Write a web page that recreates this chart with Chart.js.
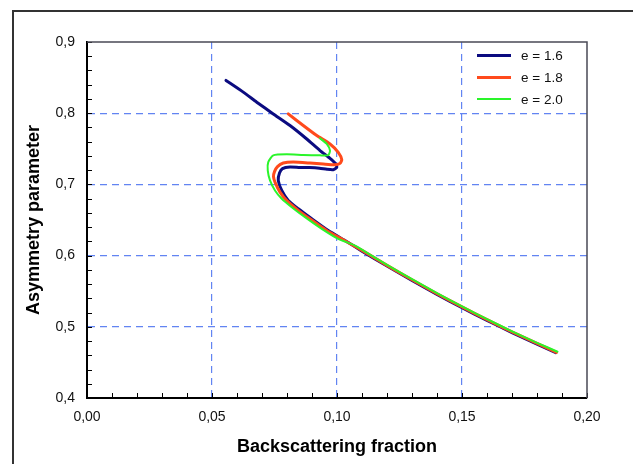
<!DOCTYPE html>
<html>
<head>
<meta charset="utf-8">
<script src="https://cdn.jsdelivr.net/npm/chart.js@4.4.0/dist/chart.umd.min.js"></script>
<style>
  html, body { margin: 0; padding: 0; background: #fff; overflow: hidden; }
  #wrap { position: relative; width: 633px; height: 464px; }
  #frame { position: absolute; left: 12px; top: 10px; width: 700px; height: 500px; border-top: 2px solid #333; border-left: 2px solid #333; }
  #myChart { position: absolute; left: 0; top: 0; }
  #legend { position: absolute; left: 477px; top: 45px; font-family: 'Liberation Sans', Arial, sans-serif; font-size: 13.5px; color: #111; }
  .row { height: 21.8px; display: flex; align-items: center; }
  .swatch { display: inline-block; width: 34px; height: 0; margin-right: 10px; }
</style>
</head>
<body>
<div id="wrap">
  <div id="frame"></div>
  <canvas id="myChart" width="633" height="464"></canvas>
  <div id="legend"></div>
</div>
<script>
// Valores
var seriesLabels = ['e = 1.6', 'e = 1.8', 'e = 2.0'];
var xTickLabels = ['0,00', '0,05', '0,10', '0,15', '0,20'];
var yTickLabels = ['0,4', '0,5', '0,6', '0,7', '0,8', '0,9'];

var e16X = [0.0556, 0.0625, 0.0679, 0.0745, 0.0812, 0.0879, 0.0932, 0.0972, 0.0992, 0.0999, 0.0985, 0.0960, 0.0930, 0.0890, 0.0852, 0.0812, 0.0782, 0.0770, 0.0765, 0.0779, 0.0805, 0.0845, 0.0899, 0.0965, 0.1032, 0.1100, 0.1200, 0.1300, 0.1400, 0.1500, 0.1600, 0.1700, 0.1800, 0.1875];
var e16Y = [0.8460, 0.8296, 0.8155, 0.7990, 0.7827, 0.7638, 0.7475, 0.7366, 0.7300, 0.7239, 0.7207, 0.7212, 0.7228, 0.7236, 0.7236, 0.7244, 0.7222, 0.7160, 0.7056, 0.6915, 0.6775, 0.6658, 0.6517, 0.6352, 0.6211, 0.6063, 0.5853, 0.5650, 0.5455, 0.5269, 0.5090, 0.4919, 0.4757, 0.4637];

var e18X = [0.0805, 0.0865, 0.0919, 0.0972, 0.1005, 0.1019, 0.1012, 0.0992, 0.0945, 0.0892, 0.0825, 0.0785, 0.0762, 0.0750, 0.0746, 0.0752, 0.0772, 0.0800, 0.0840, 0.0890, 0.0960, 0.1025, 0.1100, 0.1200, 0.1300, 0.1400, 0.1500, 0.1600, 0.1700, 0.1800, 0.1878];
var e18Y = [0.7990, 0.7827, 0.7686, 0.7568, 0.7451, 0.7348, 0.7295, 0.7275, 0.7285, 0.7300, 0.7314, 0.7300, 0.7250, 0.7180, 0.7110, 0.7033, 0.6892, 0.6770, 0.6650, 0.6520, 0.6350, 0.6222, 0.6073, 0.5863, 0.5660, 0.5465, 0.5279, 0.5100, 0.4929, 0.4767, 0.4640];

var e20X = [0.0932, 0.0959, 0.0972, 0.0965, 0.0932, 0.0865, 0.0799, 0.0745, 0.0725, 0.0723, 0.0732, 0.0752, 0.0779, 0.0819, 0.0872, 0.0939, 0.1005, 0.1072, 0.1150, 0.1200, 0.1300, 0.1400, 0.1500, 0.1600, 0.1700, 0.1800, 0.1882];
var e20Y = [0.7648, 0.7568, 0.7475, 0.7410, 0.7408, 0.7413, 0.7423, 0.7408, 0.7314, 0.7197, 0.7056, 0.6915, 0.6798, 0.6680, 0.6540, 0.6376, 0.6235, 0.6141, 0.5975, 0.5871, 0.5668, 0.5473, 0.5287, 0.5108, 0.4937, 0.4775, 0.4650];

function toPoints(xs, ys) {
    return xs.map(function(x, i) { return { x: x, y: ys[i] }; });
}

var fontFamily = "'Liberation Sans', Arial, sans-serif";
var gridBlue = 'rgba(70, 110, 240, 0.85)';

// marcas interiores y borde superior/derecho
var innerTicks = {
    id: 'innerTicks',
    beforeDatasetsDraw: function(chart) {
        var c = chart.ctx, a = chart.chartArea, sx = chart.scales.x, sy = chart.scales.y;
        c.save();
        c.strokeStyle = '#000';
        c.lineWidth = 1;
        sx.ticks.forEach(function(t) {
            var px = Math.round(sx.getPixelForValue(t.value)) + 0.5;
            c.beginPath(); c.moveTo(px, a.bottom); c.lineTo(px, a.bottom - 5); c.stroke();
        });
        sy.ticks.forEach(function(t) {
            var py = Math.round(sy.getPixelForValue(t.value)) + 0.5;
            c.beginPath(); c.moveTo(a.left, py); c.lineTo(a.left + 5, py); c.stroke();
        });
        c.strokeStyle = '#4a4a55';
        c.lineWidth = 1.5;
        c.beginPath();
        c.moveTo(a.left, a.top);
        c.lineTo(a.right, a.top);
        c.lineTo(a.right, a.bottom);
        c.stroke();
        c.restore();
    }
};

var ctx = document.getElementById('myChart').getContext('2d');
var chart = new Chart(ctx, {
    type: 'scatter',
    data: {
        datasets: [
            { label: seriesLabels[0], data: toPoints(e16X, e16Y), borderColor: '#0b0b80', borderWidth: 3, showLine: true, order: 2 },
            { label: seriesLabels[1], data: toPoints(e18X, e18Y), borderColor: '#ff4a1c', borderWidth: 3, showLine: true, order: 1 },
            { label: seriesLabels[2], data: toPoints(e20X, e20Y), borderColor: '#2af52a', borderWidth: 2, showLine: true, order: 0 }
        ]
    },
    options: {
        responsive: false,
        animation: false,
        devicePixelRatio: 1,
        elements: {
            point: { radius: 0 },
            line: { tension: 0.2, borderCapStyle: 'round', borderJoinStyle: 'round' }
        },
        layout: { padding: { top: 42, right: 46, left: 0, bottom: 0 } },
        plugins: {
            legend: { display: false },
            tooltip: { enabled: false }
        },
        scales: {
            x: {
                type: 'linear',
                min: 0,
                max: 0.2,
                afterFit: function(s) { s.height = 66; },
                ticks: {
                    stepSize: 0.01,
                    maxTicksLimit: 100,
                    autoSkip: false,
                    maxRotation: 0,
                    padding: 11,
                    color: '#111',
                    font: { family: fontFamily, size: 14 },
                    callback: function(value) {
                        var k = Math.round(value * 100);
                        return k % 5 === 0 ? xTickLabels[k / 5] : '';
                    }
                },
                grid: {
                    drawTicks: false,
                    lineWidth: 1.2,
                    color: function(c) {
                        if (!c.tick) return 'transparent';
                        var k = Math.round(c.tick.value * 100);
                        return (k % 5 === 0 && k > 0 && k < 20) ? gridBlue : 'transparent';
                    }
                },
                border: { color: '#000', width: 2, dash: [7, 5] },
                title: {
                    display: true,
                    text: 'Backscattering fraction',
                    color: '#000',
                    font: { family: fontFamily, size: 18, weight: 'bold' },
                    padding: { top: 0, bottom: 6 }
                }
            },
            y: {
                type: 'linear',
                min: 0.4,
                max: 0.9,
                afterFit: function(s) { s.width = 87; },
                ticks: {
                    stepSize: 0.02,
                    maxTicksLimit: 100,
                    autoSkip: false,
                    padding: 12,
                    color: '#111',
                    font: { family: fontFamily, size: 14 },
                    callback: function(value) {
                        var k = Math.round(value * 100);
                        return k % 10 === 0 ? yTickLabels[(k - 40) / 10] : '';
                    }
                },
                grid: {
                    drawTicks: false,
                    lineWidth: 1.2,
                    color: function(c) {
                        if (!c.tick) return 'transparent';
                        var k = Math.round(c.tick.value * 100);
                        return (k % 10 === 0 && k > 40 && k < 90) ? gridBlue : 'transparent';
                    }
                },
                border: { color: '#000', width: 2, dash: [7, 5] },
                title: {
                    display: true,
                    text: 'Asymmetry parameter',
                    color: '#000',
                    font: { family: fontFamily, size: 18, weight: 'bold' },
                    padding: { top: 23, bottom: 0 }
                }
            }
        }
    },
    plugins: [innerTicks]
});

// Leyenda a partir de los datasets
var legendBox = document.getElementById('legend');
chart.data.datasets.forEach(function(ds) {
    var row = document.createElement('div');
    row.className = 'row';
    row.innerHTML = '<span class="swatch" style="border-top:' + ds.borderWidth + 'px solid ' + ds.borderColor + '"></span>' + ds.label;
    legendBox.appendChild(row);
});
</script>
</body>
</html>
